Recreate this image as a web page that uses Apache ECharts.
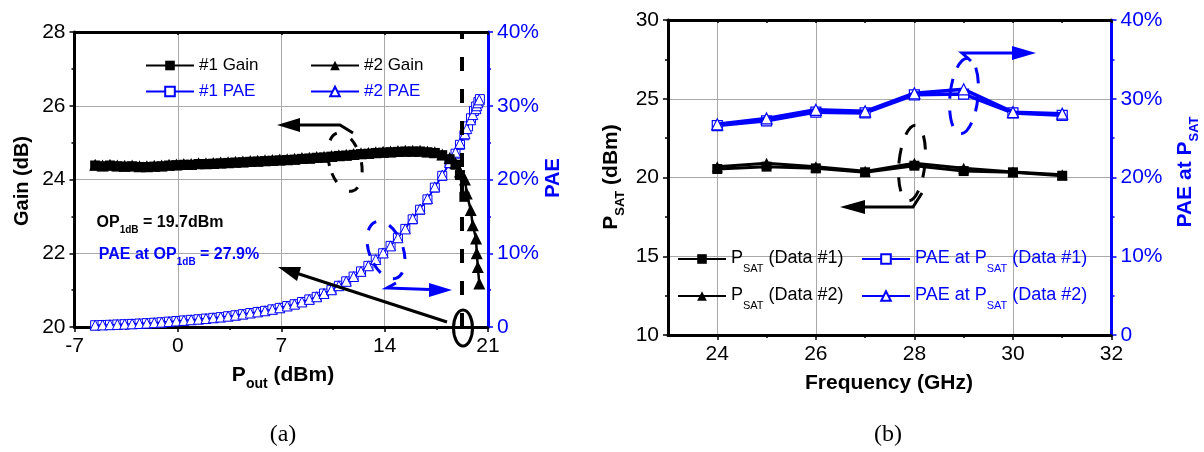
<!DOCTYPE html>
<html><head><meta charset="utf-8">
<script src="https://cdn.jsdelivr.net/npm/echarts@6/dist/echarts.min.js"></script>
<style>html,body{margin:0;padding:0;background:#fff}#c{width:1204px;height:452px}</style>
</head><body><div id="c"></div>
<script>
// ---------- Panel (a): Gain / PAE vs Pout ----------
const pout1 = [-5.6,-5.1,-4.6,-4.1,-3.6,-3.1,-2.6,-2.1,-1.6,-1.1,-0.6,-0.1,0.4,0.9,1.4,1.9,2.4,2.9,3.4,3.9,4.4,4.9,5.4,5.9,6.4,6.9,7.4,7.9,8.4,8.9,9.4,9.9,10.4,10.9,11.4,11.9,12.4,12.9,13.4,13.9,14.4,14.9,15.4,15.9,16.4,16.9,17.4,17.9,18.4,18.8,19.1,19.4,19.65,19.85,20.05,20.2,20.35,20.45];
const gain1 = [24.38,24.36,24.38,24.36,24.35,24.36,24.34,24.34,24.35,24.36,24.38,24.39,24.40,24.40,24.42,24.42,24.43,24.44,24.45,24.46,24.47,24.48,24.49,24.50,24.51,24.52,24.53,24.54,24.56,24.57,24.59,24.60,24.62,24.64,24.65,24.67,24.69,24.70,24.72,24.73,24.74,24.75,24.76,24.76,24.76,24.74,24.72,24.66,24.55,24.40,24.12,23.53];
const pae1 = [0.24,0.27,0.30,0.34,0.38,0.42,0.47,0.52,0.58,0.65,0.73,0.81,0.89,0.97,1.05,1.14,1.24,1.34,1.46,1.59,1.74,1.89,2.04,2.19,2.39,2.59,2.84,3.09,3.39,3.74,4.09,4.54,5.04,5.59,6.19,6.84,7.54,8.29,9.14,10.0,11.0,12.1,13.3,14.6,15.9,17.3,18.9,20.5,22.2,23.5,24.7,26.0,27.2,28.3,29.3,29.9,30.5,30.9];

const pout2 = [-5.6,-5.1,-4.6,-4.1,-3.6,-3.1,-2.6,-2.1,-1.6,-1.1,-0.6,-0.1,0.4,0.9,1.4,1.9,2.4,2.9,3.4,3.9,4.4,4.9,5.4,5.9,6.4,6.9,7.4,7.9,8.4,8.9,9.4,9.9,10.4,10.9,11.4,11.9,12.4,12.9,13.4,13.9,14.4,14.9,15.4,15.9,16.4,16.9,17.4,17.9,18.4,18.8,19.1,19.44,19.56,19.83,19.97,20.19,20.24,20.31,20.41];
const gain2 = [24.40,24.38,24.40,24.38,24.37,24.38,24.36,24.36,24.37,24.38,24.40,24.41,24.42,24.42,24.44,24.44,24.45,24.46,24.47,24.48,24.49,24.50,24.51,24.52,24.53,24.54,24.55,24.56,24.58,24.59,24.61,24.62,24.64,24.66,24.67,24.69,24.71,24.72,24.74,24.75,24.76,24.77,24.78,24.78,24.78,24.76,24.74,24.68,24.58,24.45,24.22,24.00,23.62,23.17,22.76,22.40,22.00,21.63,21.18];
const pae2 = [0.25,0.28,0.31,0.35,0.39,0.43,0.48,0.53,0.59,0.66,0.74,0.82,0.90,0.98,1.06,1.15,1.25,1.35,1.47,1.60,1.75,1.90,2.05,2.20,2.40,2.60,2.85,3.10,3.40,3.75,4.10,4.55,5.05,5.60,6.20,6.85,7.55,8.30,9.15,10.05,11.0,12.1,13.3,14.7,16.0,17.4,19.0,20.6,22.3,23.7,24.9,26.2,26.9,28.1,28.8,29.6,30.0,30.4,30.8];

const op1dbLine = [19.2];                 // dashed marker position (dBm)
const gainTicks = [20, 28, 2];            // min, max, step
const paeTicks = [0, 40, 10];
const poutTicks = [-7, 21, 7];

// ---------- Panel (b): Psat / PAE vs Frequency ----------
const freq = [24,25,26,27,28,29,30,31];
const psat1 = [20.54,20.69,20.58,20.33,20.75,20.41,20.33,20.11];
const psat2 = [20.69,20.90,20.69,20.39,20.90,20.58,20.35,20.18];
const paeSat1 = [26.6,27.2,28.3,28.2,30.5,30.6,28.2,27.9];
const paeSat2 = [26.75,27.5,28.6,28.4,30.7,31.2,28.3,28.1];
const freqLabels = [24,26,28,30,32];

const BLUE = '#0000ff', BLACK = '#000';
const NARROW = '"Liberation Sans Narrow","Arial Narrow","Liberation Sans",sans-serif';
const SANS = '"Liberation Sans",Arial,sans-serif';
const GRIDC = '#a8a8a8';
const TICKFS = 21;

function pairs(xs, ys){ const out=[]; for(let i=0;i<ys.length;i++) out.push([xs[i], ys[i]]); return out; }

const pctFmt = v => v === 0 ? '0' : v + '%';

function baseAxis(color, extra){
  return Object.assign({
    type:'value',
    axisLine:{show:true, onZero:false, lineStyle:{color, width:3}},
    axisTick:{show:true, length:5, lineStyle:{color, width:1.5}},
    minorTick:{show:true, splitNumber:2, length:3, lineStyle:{color, width:1.5}},
    axisLabel:{color, fontSize:TICKFS, fontFamily:NARROW, margin:9},
    splitLine:{show:false}
  }, extra);
}

const chart = echarts.init(document.getElementById('c'), null, {renderer:'canvas'});

const legendCommon = {orient:'horizontal', itemWidth:48, itemHeight:12, itemGap:0, padding:0, selectedMode:false,
  textStyle:{fontSize:17, fontFamily:SANS}};
function leg(name, left, top, color, rich){
  const o = Object.assign({}, legendCommon, {left, top, data:[{name, textStyle:{color}}]});
  o.textStyle = Object.assign({}, legendCommon.textStyle, {color});
  if (rich) {
    o.textStyle.fontSize = 18;
    o.textStyle.rich = {
      m:{fontSize:18, lineHeight:20, verticalAlign:'top', color, fontFamily:SANS},
      s:{fontSize:11, lineHeight:12, padding:[14,0,0,0], verticalAlign:'top', color, fontFamily:SANS}
    };
    o.formatter = rich;
  }
  return o;
}
const legLabel = {
  'PSAT (Data #1)':'{m|P}{s|SAT}{m| (Data #1)}',
  'PSAT (Data #2)':'{m|P}{s|SAT}{m| (Data #2)}',
  'PAE at PSAT (Data #1)':'{m|PAE at P}{s|SAT}{m| (Data #1)}',
  'PAE at PSAT (Data #2)':'{m|PAE at P}{s|SAT}{m| (Data #2)}'
};
const legFmt = n => legLabel[n];

function subText(x, y, parts, color, size, subSize, subPad, rot, weight){
  const rich = {
    m:{fontSize:size, fontWeight:weight||'bold', fontFamily:SANS, fill:color, lineHeight:size+2, verticalAlign:'top'},
    s:{fontSize:subSize, fontWeight:weight||'bold', fontFamily:SANS, fill:color, lineHeight:subSize+1, padding:[subPad,0,0,0], verticalAlign:'top'}
  };
  return {type:'text', x, y, rotation:rot||0, z:50,
    style:{text:parts, rich, fill:color, font:`${weight||'bold'} ${size}px ${SANS}`, align:'center', verticalAlign:'middle'}};
}

const graphics = [
  // axis titles panel (a)
  {type:'text', x:22, y:181, rotation:Math.PI/2, z:50, style:{text:'Gain (dB)', fill:BLACK, font:`bold 20px ${SANS}`, align:'center', verticalAlign:'middle'}},
  {type:'text', x:553, y:178, rotation:Math.PI/2, z:50, style:{text:'PAE', fill:BLUE, font:`bold 20px ${SANS}`, align:'center', verticalAlign:'middle'}},
  subText(283, 376, '{m|P}{s|out}{m| (dBm)}', BLACK, 21, 14, 13),
  // annotations panel (a)
  subText(160, 224, '{m|OP}{s|1dB}{m| = 19.7dBm}', BLACK, 16, 10, 10),
  subText(179, 256, '{m|PAE at OP}{s|1dB}{m| = 27.9%}', BLUE, 16, 10, 10),
  // axis titles panel (b)
  subText(889, 384, '{m|Frequency (GHz)}', BLACK, 21, 12, 10),
  subText(612, 177, '{m|P}{s|SAT}{m| (dBm)}', BLACK, 21, 13, 13, Math.PI/2),
  subText(1186, 172, '{m|PAE at P}{s|SAT}', BLUE, 21, 13, 13, Math.PI/2),
  // captions
  {type:'text', x:283, y:435, z:50, style:{text:'(a)', fill:BLACK, font:`24px "Liberation Serif",serif`, align:'center', verticalAlign:'middle'}},
  {type:'text', x:888, y:435, z:50, style:{text:'(b)', fill:BLACK, font:`24px "Liberation Serif",serif`, align:'center', verticalAlign:'middle'}},

  // panel (a) arrows
  {type:'polyline', z:40, shape:{points:[[353,133],[340,125],[298,125]]}, style:{stroke:BLACK, lineWidth:3, fill:null}},
  {type:'polygon', z:40, shape:{points:[[277,125],[300,118],[300,132]]}, style:{fill:BLACK}},
  {type:'line', z:40, shape:{x1:447, y1:322, x2:296, y2:273}, style:{stroke:BLACK, lineWidth:3}},
  {type:'polygon', z:40, shape:{points:[[278,267],[301,267],[297,281]]}, style:{fill:BLACK}},
  {type:'polyline', z:40, shape:{points:[[396,283],[387,288],[430,289.5]]}, style:{stroke:BLUE, lineWidth:3, fill:null}},
  {type:'polygon', z:40, shape:{points:[[452,290],[429,283],[429,297]]}, style:{fill:BLUE}},
  {type:'ellipse', z:40, shape:{cx:463, cy:328, rx:9.5, ry:18}, style:{stroke:BLACK, lineWidth:3, fill:null}},
  {type:'ellipse', z:40, x:345, y:162, rotation:0.25, shape:{cx:0, cy:0, rx:16, ry:30}, style:{stroke:BLACK, lineWidth:3, fill:null, lineDash:[10,16]}},
  {type:'ellipse', z:40, x:386, y:250, rotation:0.35, shape:{cx:0, cy:0, rx:17, ry:30}, style:{stroke:BLUE, lineWidth:3, fill:null, lineDash:[12,14]}},

  // panel (b) arrows
  {type:'polyline', z:40, shape:{points:[[922,193],[913,207],[862,207]]}, style:{stroke:BLACK, lineWidth:3, fill:null}},
  {type:'polygon', z:40, shape:{points:[[840,207],[865,200],[865,214]]}, style:{fill:BLACK}},
  {type:'polyline', z:40, shape:{points:[[971,61],[962,53],[1014,53]]}, style:{stroke:BLUE, lineWidth:3, fill:null}},
  {type:'polygon', z:40, shape:{points:[[1036,53],[1012,46],[1012,60]]}, style:{fill:BLUE}},
  {type:'ellipse', z:40, x:912, y:163, rotation:-0.1, shape:{cx:0, cy:0, rx:13, ry:38}, style:{stroke:BLACK, lineWidth:3, fill:null, lineDash:[14,14]}},
  {type:'ellipse', z:40, x:964, y:96, rotation:-0.1, shape:{cx:0, cy:0, rx:14, ry:38}, style:{stroke:BLUE, lineWidth:3, fill:null, lineDash:[16,12]}}
];

const option = {
  animation:false,
  backgroundColor:'#fff',
  grid:[
    {left:74.5, top:32, width:413.5, height:295},
    {left:668, top:20, width:443.5, height:315}
  ],
  xAxis:[
    baseAxis(BLACK, {gridIndex:0, min:poutTicks[0], max:poutTicks[1], interval:poutTicks[2],
      splitLine:{show:true, lineStyle:{color:GRIDC, width:1}}}),
    baseAxis(BLACK, {gridIndex:0, position:'top', min:poutTicks[0], max:poutTicks[1], interval:poutTicks[2],
      axisTick:{show:true, inside:true, length:3, lineStyle:{color:BLACK, width:1.5}},
      minorTick:{show:true, splitNumber:2, length:2, lineStyle:{color:BLACK, width:1.5}},
      axisLabel:{show:false}}),
    baseAxis(BLACK, {gridIndex:1, min:23, max:32,
      axisTick:{show:true, length:5, customValues:freqLabels, lineStyle:{color:BLACK, width:1.5}},
      axisLabel:{color:BLACK, fontSize:TICKFS, fontFamily:NARROW, margin:9, customValues:freqLabels},
      minorTick:{show:true, splitNumber:2, length:3, lineStyle:{color:BLACK, width:1.5}},
      splitLine:{show:true, lineStyle:{color:GRIDC, width:1}}}),
    baseAxis(BLACK, {gridIndex:1, position:'top', min:23, max:32, interval:1,
      axisTick:{show:true, inside:true, length:3, lineStyle:{color:BLACK, width:1.5}},
      minorTick:{show:false}, axisLabel:{show:false}})
  ],
  yAxis:[
    baseAxis(BLACK, {gridIndex:0, min:gainTicks[0], max:gainTicks[1], interval:gainTicks[2],
      splitLine:{show:true, lineStyle:{color:GRIDC, width:1}}}),
    baseAxis(BLUE, {gridIndex:0, position:'right', min:paeTicks[0], max:paeTicks[1], interval:paeTicks[2],
      axisLabel:{color:BLUE, fontSize:TICKFS, fontFamily:NARROW, margin:9, formatter:pctFmt}}),
    baseAxis(BLACK, {gridIndex:1, min:10, max:30, interval:5,
      splitLine:{show:true, lineStyle:{color:GRIDC, width:1}}}),
    baseAxis(BLUE, {gridIndex:1, position:'right', min:paeTicks[0], max:paeTicks[1], interval:paeTicks[2],
      axisLabel:{color:BLUE, fontSize:TICKFS, fontFamily:NARROW, margin:9, formatter:pctFmt}})
  ],
  legend:[
    leg('#1 Gain', 145, 57, BLACK),
    leg('#2 Gain', 310, 57, BLACK),
    leg('#1 PAE', 145, 83, BLUE),
    leg('#2 PAE', 310, 83, BLUE),
    leg('PSAT (Data #1)', 677, 249, BLACK, legFmt),
    leg('PAE at PSAT (Data #1)', 861, 249, BLUE, legFmt),
    leg('PSAT (Data #2)', 677, 286, BLACK, legFmt),
    leg('PAE at PSAT (Data #2)', 861, 286, BLUE, legFmt)
  ],
  series:[
    {name:'#1 PAE', type:'line', xAxisIndex:0, yAxisIndex:1, data:pairs(pout1, pae1), symbol:'rect', symbolSize:9,
      itemStyle:{color:'#fff', borderColor:BLUE, borderWidth:1}, lineStyle:{color:BLUE, width:1.5}, z:3},
    {name:'#2 PAE', type:'line', xAxisIndex:0, yAxisIndex:1, data:pairs(pout2, pae2), symbol:'triangle', symbolSize:10,
      itemStyle:{color:'#fff', borderColor:BLUE, borderWidth:1}, lineStyle:{color:BLUE, width:1.5}, z:4},
    {name:'#1 Gain', type:'line', xAxisIndex:0, yAxisIndex:0, data:pairs(pout1, gain1), symbol:'rect', symbolSize:10,
      itemStyle:{color:BLACK}, lineStyle:{color:BLACK, width:2.5}, z:5},
    {name:'#2 Gain', type:'line', xAxisIndex:0, yAxisIndex:0, data:pairs(pout2, gain2), symbol:'triangle', symbolSize:12,
      itemStyle:{color:BLACK}, lineStyle:{color:BLACK, width:2.5}, z:6,
      markLine:{silent:true, symbol:'none', label:{show:false}, animation:false,
        lineStyle:{color:BLACK, width:4, type:[14,18]}, data:op1dbLine.map(v=>({xAxis:v}))}},

    {name:'PSAT (Data #1)', type:'line', xAxisIndex:2, yAxisIndex:2, data:pairs(freq, psat1), symbol:'rect', symbolSize:10,
      itemStyle:{color:BLACK}, lineStyle:{color:BLACK, width:3}, z:5},
    {name:'PSAT (Data #2)', type:'line', xAxisIndex:2, yAxisIndex:2, data:pairs(freq, psat2), symbol:'triangle', symbolSize:11,
      itemStyle:{color:BLACK}, lineStyle:{color:BLACK, width:3}, z:6},
    {name:'PAE at PSAT (Data #1)', type:'line', xAxisIndex:2, yAxisIndex:3, data:pairs(freq, paeSat1), symbol:'rect', symbolSize:10,
      itemStyle:{color:'#fff', borderColor:BLUE, borderWidth:1.2}, lineStyle:{color:BLUE, width:3.5}, z:5},
    {name:'PAE at PSAT (Data #2)', type:'line', xAxisIndex:2, yAxisIndex:3, data:pairs(freq, paeSat2), symbol:'triangle', symbolSize:11,
      itemStyle:{color:'#fff', borderColor:BLUE, borderWidth:1.2}, lineStyle:{color:BLUE, width:3.5}, z:6}
  ],
  graphic:{elements:graphics}
};
chart.setOption(option);
</script></body></html>
